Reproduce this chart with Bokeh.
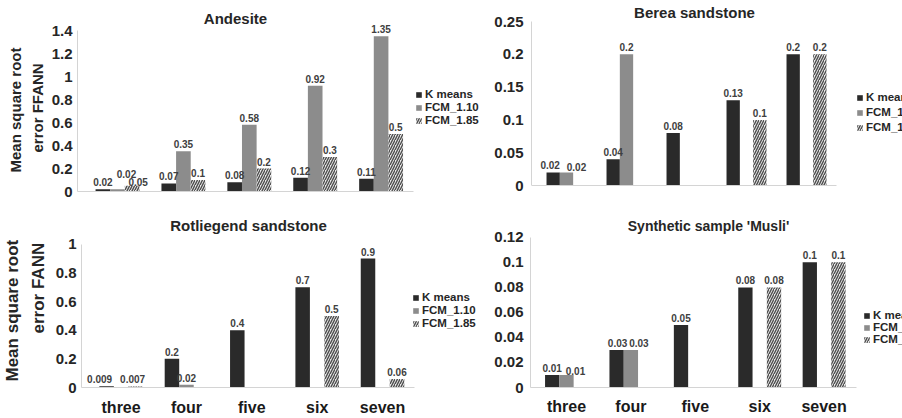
from bokeh.plotting import figure
from bokeh.models import (Range1d, FixedTicker, Label, LabelSet, ColumnDataSource,
                          Legend, LegendItem, Title)
from bokeh.core.properties import value
from bokeh.layouts import column, row
from bokeh.embed import file_html
from bokeh.resources import INLINE

# ---------------- data ----------------
clusters = ["three", "four", "five", "six", "seven"]
series_names = ["K means", "FCM_1.10", "FCM_1.85"]

andesite_kmeans = [0.02, 0.07, 0.08, 0.12, 0.11]
andesite_fcm110 = [0.02, 0.35, 0.58, 0.92, 1.35]
andesite_fcm185 = [0.05, 0.1, 0.2, 0.3, 0.5]

berea_kmeans = [0.02, 0.04, 0.08, 0.13, 0.2]
berea_fcm110 = [0.02, 0.2, None, None, None]
berea_fcm185 = [None, None, None, 0.1, 0.2]

rotliegend_kmeans = [0.009, 0.2, 0.4, 0.7, 0.9]
rotliegend_fcm110 = [None, 0.02, None, None, None]
rotliegend_fcm185 = [0.007, None, None, 0.5, 0.06]

musli_kmeans = [0.01, 0.03, 0.05, 0.08, 0.1]
musli_fcm110 = [0.01, 0.03, None, None, None]
musli_fcm185 = [None, None, None, 0.08, 0.1]

andesite_ticks = [0, 0.2, 0.4, 0.6, 0.8, 1, 1.2, 1.4]
berea_ticks = [0, 0.05, 0.1, 0.15, 0.2, 0.25]
rotliegend_ticks = [0, 0.2, 0.4, 0.6, 0.8, 1]
musli_ticks = [0, 0.02, 0.04, 0.06, 0.08, 0.1, 0.12]

# ---------------- style ----------------
FONT = "Liberation Sans"
DARK = "#262626"
AXIS = "#d4d4d4"
FIG_H = 209
BAR_W = 0.222


def make_panel(title, series, ticks, c):
    W = c["w"]
    fb = c["fb"]          # frame bottom (pixel, shared within a row)
    y0 = c["y0"]          # pixel of value 0
    # pixel geometry -> data ranges
    xs = -(c["g0"] - c["fl"]) / c["u"]
    xe_axis = xs + (c["ar"] - c["fl"]) / c["u"]
    xe_full = xs + (W - c["fl"]) / c["u"]
    ppu = (y0 - c["yt"]) / ticks[-1]
    ys = -(fb - y0) / ppu
    ye_full = y0 / ppu

    p = figure(width=W, height=FIG_H, output_backend="svg", toolbar_location=None,
               x_range=Range1d(xs, xe_full), y_range=Range1d(ys, ye_full),
               min_border_left=c["fl"], min_border_right=0,
               min_border_top=0, min_border_bottom=FIG_H - fb)
    p.outline_line_color = None
    p.background_fill_color = "white"
    p.border_fill_color = "white"
    p.xgrid.visible = False
    p.ygrid.visible = False

    for ax in (p.xaxis, p.yaxis):
        ax.axis_line_color = AXIS
        ax.major_tick_line_color = None
        ax.minor_tick_line_color = None
        ax.major_tick_out = 0
        ax.major_tick_in = 0
        ax.minor_tick_out = 0
        ax.minor_tick_in = 0
        ax.major_label_text_font = FONT
        ax.major_label_text_font_style = "bold"

    # y axis
    p.yaxis.ticker = FixedTicker(ticks=ticks)
    p.yaxis.bounds = (0, ticks[-1])
    p.yaxis.major_label_overrides = {t: str(t) for t in ticks}
    p.yaxis.major_label_standoff = c["ystand"]
    p.yaxis.major_label_text_font_size = "15px"
    p.yaxis.major_label_text_color = DARK

    # x axis
    if c["xlabels"]:
        p.xaxis.ticker = FixedTicker(ticks=list(range(len(clusters))))
        p.xaxis.major_label_overrides = {i: cl for i, cl in enumerate(clusters)}
        p.xaxis.major_label_standoff = c["xstand"]
        p.xaxis.major_label_text_font_size = "16px"
    else:
        p.xaxis.ticker = FixedTicker(ticks=[])
        p.xaxis.major_label_standoff = 0
        p.xaxis.major_label_text_font_size = "0px"
    if fb != y0:
        p.xaxis.fixed_location = 0
    p.xaxis.bounds = (xs, xe_axis)
    p.xaxis.major_label_text_color = "#1a1a1a"

    styles = [
        dict(fill_color="#2a2a2a"),
        dict(fill_color="#8c8c8c"),
        dict(fill_color="#e8e8e8", hatch_pattern="right_diagonal_line",
             hatch_color="#4d4d4d", hatch_scale=5, hatch_weight=1.4),
    ]
    offsets = [-BAR_W, 0.0, BAR_W]
    nudge = c.get("nudge", {})
    items = []
    for si, (name, vals, off, st) in enumerate(zip(series_names, series, offsets, styles)):
        idx = [i for i, v in enumerate(vals) if v is not None]
        bx = [i + off for i in idx]
        by = [vals[i] for i in idx]
        txt = [str(vals[i]) for i in idx]
        xo = [nudge.get((si, i), (0, 0))[0] for i in idx]
        yo = [3 + nudge.get((si, i), (0, 0))[1] for i in idx]
        src = ColumnDataSource(dict(x=bx, top=by, text=txt, xo=xo, yo=yo))
        r = p.vbar(x="x", top="top", width=BAR_W, source=src, line_color=None, **st)
        items.append(LegendItem(label=name, renderers=[r]))
        p.add_layout(LabelSet(x="x", y="top", text="text", source=src,
                              x_offset="xo", y_offset="yo",
                              text_align="center", text_baseline="bottom",
                              text_font=value(FONT), text_font_style="bold",
                              text_font_size="10px", text_color="#404040"))

    gx, gb = c["leg"]
    leg = Legend(items=items, location=(gx - c["fl"], fb - gb), orientation="vertical",
                 padding=0, margin=0, spacing=c["lsp"], border_line_color=None,
                 background_fill_alpha=0, glyph_width=7, glyph_height=7,
                 label_height=12, label_standoff=3,
                 label_text_font=FONT, label_text_font_style="bold",
                 label_text_font_size="11.5px", label_text_color=DARK)
    p.add_layout(leg)

    # chart title inside the (extended) frame
    p.add_layout(Label(x=c["tx"] - c["fl"], y=fb - c["ty"],
                       x_units="screen", y_units="screen",
                       text=title, text_align="center", text_baseline="middle",
                       text_font=FONT, text_font_style="bold",
                       text_font_size=c["tfs"], text_color=DARK))
    # two-line y-axis title as side titles (inner line first)
    for (ltxt, lfs, stand, off) in c.get("ylab", []):
        p.add_layout(Title(text=ltxt, align="left", offset=off, standoff=stand,
                           text_font=FONT, text_font_style="bold",
                           text_font_size=lfs, text_color=DARK), "left")
    return p


cfg_tl = dict(w=484, fl=77, ar=413, g0=117, u=65.9, fb=191, y0=191, yt=30,
              ystand=5, xlabels=False, leg=(415, 126), lsp=1,
              tx=235, ty=18, tfs="15px",
              nudge={(1, 0): (9, 8), (2, 0): (6, -3)},
              ylab=[("error FFANN", "15px", 6, 39), ("Mean square root", "15px", 0, 19)])
cfg_tr = dict(w=418, fl=47, ar=352, g0=82, u=60, fb=191, y0=185, yt=21,
              ystand=8, xlabels=False, leg=(372, 133), lsp=3,
              tx=210, ty=12, tfs="15px",
              nudge={(0, 0): (-3, 0), (1, 0): (10, -2)})
cfg_bl = dict(w=484, fl=77, ar=413, g0=117, u=66, fb=179, y0=179, yt=35,
              ystand=5, xstand=11, xlabels=True, leg=(408, 121), lsp=1,
              tx=244, ty=17, tfs="15px",
              nudge={(0, 0): (-7, 0), (2, 0): (-3, 0)},
              ylab=[("error FANN", "17px", 10, 54), ("Mean square root", "17px", 0, 6)])
cfg_br = dict(w=418, fl=46, ar=372, g0=82, u=64.4, fb=179, y0=179, yt=28,
              ystand=7, xstand=10, xlabels=True, leg=(379, 137), lsp=0,
              tx=224, ty=17, tfs="14px",
              nudge={(1, 0): (9, -3), (0, 1): (1, 0), (1, 1): (8, 0)})

p_tl = make_panel("Andesite", [andesite_kmeans, andesite_fcm110, andesite_fcm185],
                  andesite_ticks, cfg_tl)
p_tr = make_panel("Berea sandstone", [berea_kmeans, berea_fcm110, berea_fcm185],
                  berea_ticks, cfg_tr)
p_bl = make_panel("Rotliegend sandstone",
                  [rotliegend_kmeans, rotliegend_fcm110, rotliegend_fcm185],
                  rotliegend_ticks, cfg_bl)
p_br = make_panel("Synthetic sample 'Musli'", [musli_kmeans, musli_fcm110, musli_fcm185],
                  musli_ticks, cfg_br)

layout = column(row(p_tl, p_tr), row(p_bl, p_br))
open("out.html", "w").write(file_html(layout, INLINE))
